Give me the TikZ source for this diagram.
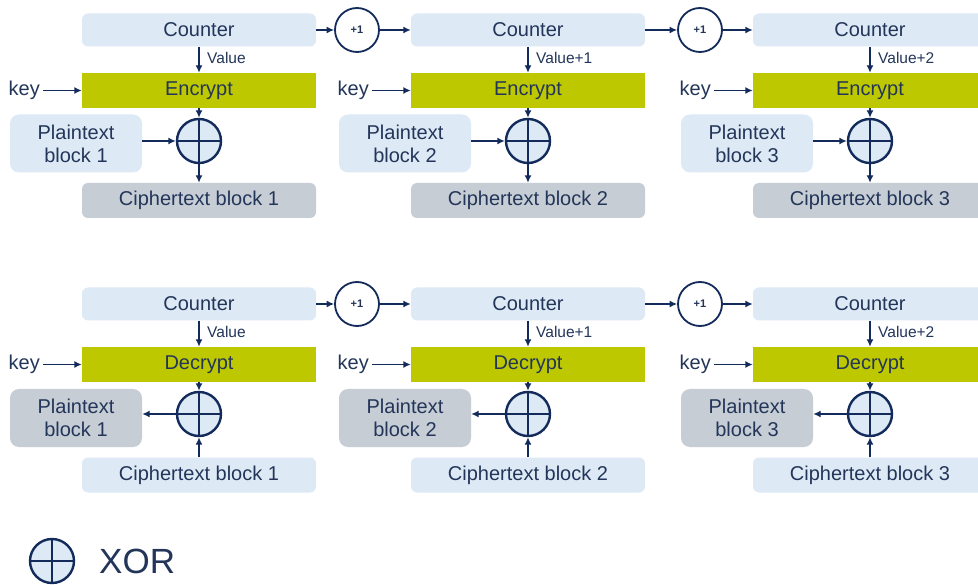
\documentclass[tikz,border=0pt]{standalone}
\usepackage{fontspec}
\setmainfont{Liberation Sans}
\usetikzlibrary{arrows.meta}
\definecolor{txt}{HTML}{233559}
\definecolor{arrc}{HTML}{132B5B}
\definecolor{lblue}{HTML}{DDEAF6}
\definecolor{gboxc}{HTML}{C6CDD5}
\definecolor{grn}{HTML}{BDC800}
\begin{document}
\begin{tikzpicture}[x=1pt,y=-1pt,
  basebox/.style={inner sep=0pt, text=txt, font=\fontsize{20}{23}\selectfont, align=center},
  lbox/.style={basebox, fill=lblue, rounded corners=6pt, minimum width=234pt, minimum height=33pt},
  gbox/.style={basebox, fill=gboxc, rounded corners=6pt, minimum width=234pt, minimum height=35pt},
  ebox/.style={basebox, fill=grn, minimum width=234pt, minimum height=35pt},
  pbox/.style={basebox, rounded corners=9pt, minimum width=132pt, minimum height=58pt},
  xor/.style={circle, draw=arrc, line width=2.4pt, fill=lblue, minimum size=44pt, inner sep=0pt},
  xorline/.style={draw=arrc, line width=2.4pt},
  inc/.style={circle, draw=arrc, line width=1.8pt, fill=white, minimum size=44pt, inner sep=0pt, text=txt, font=\fontsize{11}{12}\selectfont\bfseries},
  arr/.style={draw=arrc, line width=1.4pt, -{Latex[length=7.5pt,width=7pt]}},
  lab/.style={text=txt, font=\fontsize{15.5}{17}\selectfont, inner sep=2pt},
  keylab/.style={text=txt, font=\fontsize{20}{23}\selectfont, inner sep=3pt}
]
\fill[white] (0,0) rectangle (978,585);
\useasboundingbox (0,0) rectangle (978,585);

% ---------- Encryption row ----------
\foreach \col/\dx/\val in {1/0/Value, 2/329/Value+1, 3/671/Value+2}{
  \node[lbox] (ctr\col) at (199+\dx,30) {Counter};
  \node[ebox] (enc\col) at (199+\dx,90.5) {Encrypt};
  \node[xor] (xe\col) at (199+\dx,141) {};
  \draw[xorline] (xe\col.north) -- (xe\col.south) (xe\col.west) -- (xe\col.east);
  \node[pbox, fill=lblue] (pe\col) at (76+\dx,143.5) {Plaintext\\block \col};
  \node[gbox] (ce\col) at (199+\dx,200.5) {Ciphertext block \col};
  \node[keylab, anchor=east] (ke\col) at (43+\dx,90.5) {key};
  \node[lab, anchor=west] (ve\col) at (205+\dx,58) {\val};
  \draw[arr] (ctr\col.south) -- (enc\col.north);
  \draw[arr] (ke\col.east) -- (enc\col.west);
  \draw[arr] (enc\col.south) -- (xe\col.north);
  \draw[arr] (pe\col.east |- xe\col.west) -- (xe\col.west);
  \draw[arr] (xe\col.south) -- (ce\col.north);
}
\node[inc] (ie1) at (357,30) {+1};
\node[inc] (ie2) at (700,30) {+1};
\draw[arr] (ctr1.east) -- (ie1.west);
\draw[arr] (ie1.east) -- (ctr2.west);
\draw[arr] (ctr2.east) -- (ie2.west);
\draw[arr] (ie2.east) -- (ctr3.west);

% ---------- Decryption row ----------
\foreach \col/\dx/\val in {1/0/Value, 2/329/Value+1, 3/671/Value+2}{
  \node[lbox] (dctr\col) at (199+\dx,304) {Counter};
  \node[ebox] (dec\col) at (199+\dx,364.5) {Decrypt};
  \node[xor] (xd\col) at (199+\dx,414) {};
  \draw[xorline] (xd\col.north) -- (xd\col.south) (xd\col.west) -- (xd\col.east);
  \node[pbox, fill=gboxc] (pd\col) at (76+\dx,418) {Plaintext\\block \col};
  \node[lbox, minimum height=35pt] (cd\col) at (199+\dx,475) {Ciphertext block \col};
  \node[keylab, anchor=east] (kd\col) at (43+\dx,364.5) {key};
  \node[lab, anchor=west] (vd\col) at (205+\dx,332) {\val};
  \draw[arr] (dctr\col.south) -- (dec\col.north);
  \draw[arr] (kd\col.east) -- (dec\col.west);
  \draw[arr] (dec\col.south) -- (xd\col.north);
  \draw[arr] (xd\col.west) -- (pd\col.east |- xd\col.west);
  \draw[arr] (cd\col.north) -- (xd\col.south);
}
\node[inc] (id1) at (357,304) {+1};
\node[inc] (id2) at (700,304) {+1};
\draw[arr] (dctr1.east) -- (id1.west);
\draw[arr] (id1.east) -- (dctr2.west);
\draw[arr] (dctr2.east) -- (id2.west);
\draw[arr] (id2.east) -- (dctr3.west);

% ---------- Legend ----------
\node[xor] (leg) at (52,561) {};
\draw[xorline] (leg.north) -- (leg.south) (leg.west) -- (leg.east);
\node[anchor=west, text=txt, font=\fontsize{35}{40}\selectfont, inner sep=3pt] (legtxt) at (96,561) {XOR};
\end{tikzpicture}
\end{document}
